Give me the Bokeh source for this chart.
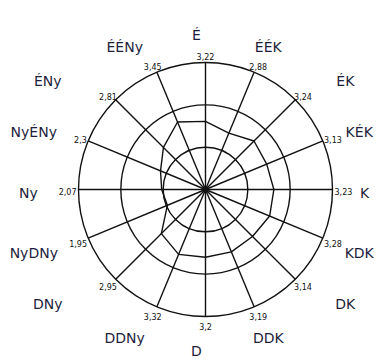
import math
from bokeh.plotting import figure
from bokeh.models import Range1d
from bokeh.core.properties import value
from bokeh.embed import file_html
from bokeh.resources import INLINE

# ---- data ----
directions = ["É", "ÉÉK", "ÉK", "KÉK", "K", "KDK", "DK", "DDK",
              "D", "DDNy", "DNy", "NyDNy", "Ny", "NyÉNy", "ÉNy", "ÉÉNy"]
speeds = [3.22, 2.88, 3.24, 3.13, 3.23, 3.28, 3.14, 3.19,
          3.2, 3.32, 2.95, 1.95, 2.07, 2.3, 2.81, 3.45]
speed_labels = ["3,22", "2,88", "3,24", "3,13", "3,23", "3,28", "3,14", "3,19",
                "3,2", "3,32", "2,95", "1,95", "2,07", "2,3", "2,81", "3,45"]
ring_values = [2, 4, 6]

# ---- layout ----
W, H = 381, 360
cx_px, cy_px = 205, 189          # centre of the rose in plot pixels
r_max = ring_values[-1]
k = 127 / r_max                   # pixels per unit
x0 = -cx_px / k
x1 = (W - cx_px) / k
y1 = cy_px / k
y0 = -(H - cy_px) / k

p = figure(width=W, height=H, x_range=Range1d(x0, x1), y_range=Range1d(y0, y1),
           x_axis_type=None, y_axis_type=None, output_backend="svg",
           toolbar_location=None, min_border=0)
p.outline_line_color = None
p.grid.visible = False
p.background_fill_color = "white"

n = len(directions)
angles = [math.pi / 2 - i * 2 * math.pi / n for i in range(n)]
line_col = "#111111"

# rings
for rv in ring_values:
    p.circle(x=0, y=0, radius=rv, fill_color=None, line_color=line_col, line_width=1.4)

# spokes
p.multi_line(xs=[[0, r_max * math.cos(a)] for a in angles],
             ys=[[0, r_max * math.sin(a)] for a in angles],
             line_color=line_col, line_width=1.4)

# data polygon
dx = [v * math.cos(a) for v, a in zip(speeds, angles)]
dy = [v * math.sin(a) for v, a in zip(speeds, angles)]
p.line(x=dx + dx[:1], y=dy + dy[:1], line_color=line_col, line_width=1.4)

# centre dot
p.scatter(x=[0], y=[0], size=6, color=line_col)

# value labels at the spoke tips
def text_w(s, fs):
    return sum((0.318 if ch == "," else 0.636) * fs for ch in s)

vfs = 8
vx, vy = [], []
for s, a in zip(speed_labels, angles):
    ux, uy = math.cos(a), math.sin(a)
    w = text_w(s, vfs)
    px = r_max * k * ux + ux * (w / 2 + 2)
    py = r_max * k * uy + uy * (vfs / 2 + 4) - 2
    vx.append(px / k)
    vy.append(py / k)
p.text(x=vx, y=vy, text=speed_labels, text_align="center", text_baseline="middle",
       text_font=value("DejaVu Sans"), text_font_size=value(f"{vfs}px"),
       text_color="#111111")

# direction labels around the rose (diagonals pushed outward horizontally)
rx_lab, ry_lab = 168, 158
sx_lab, sy_lab = -9, -3
diag_push = 30
lx, ly = [], []
for a in angles:
    c = math.cos(a)
    sgn = 1 if c > 1e-9 else (-1 if c < -1e-9 else 0)
    push = diag_push * math.sin(2 * a) ** 4 * sgn
    lx.append((rx_lab * c + push + sx_lab) / k)
    ly.append((ry_lab * math.sin(a) + sy_lab) / k)
p.text(x=lx, y=ly, text=directions, text_align="center", text_baseline="middle",
       text_font=value("DejaVu Sans"), text_font_size=value("14px"),
       text_color="#1e1e3c")

open("out.html", "w").write(file_html(p, INLINE))
